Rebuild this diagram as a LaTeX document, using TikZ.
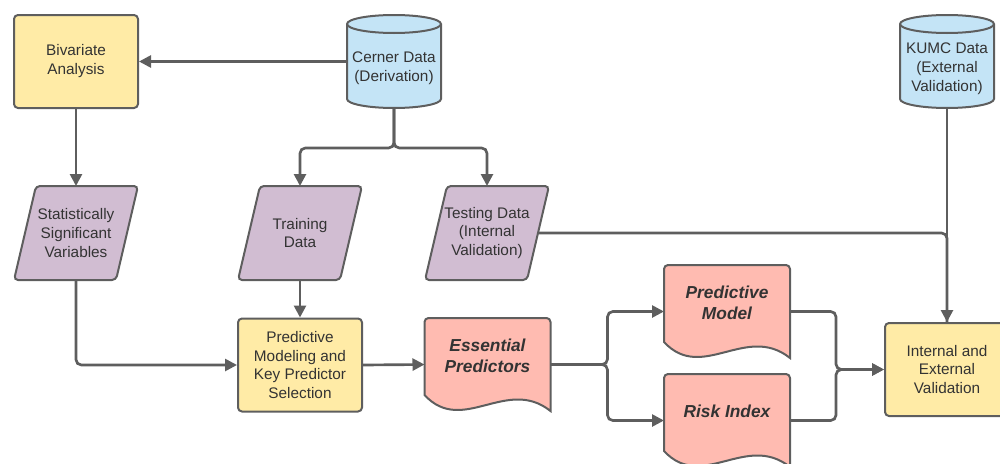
\documentclass[tikz,border=0pt]{standalone}
\usepackage{fontspec}
\setmainfont{Liberation Sans}
\usepackage{xcolor}
\usepackage{tikz}
\usetikzlibrary{arrows.meta,calc}
\definecolor{edgeGray}{RGB}{94,94,94}
\definecolor{inkGray}{RGB}{51,51,51}
\definecolor{procYellow}{RGB}{255,235,166}
\definecolor{drumBlue}{RGB}{196,228,246}
\definecolor{slantPurple}{RGB}{209,189,210}
\definecolor{docPink}{RGB}{255,187,177}
\tikzset{
  outline/.style={draw=edgeGray, line width=1.5pt},
  frame/.style={inner sep=0pt, outer sep=0pt},   % invisible box that carries the anchors
  lbl/.style={align=center, text=inkGray, font=\fontsize{11.5}{14.2}\selectfont},
  keytext/.style={lbl, font=\fontsize{13}{15.6}\selectfont\bfseries\itshape},
  process/.style={outline, lbl, rounded corners=3pt, fill=procYellow,
    minimum width=93pt, minimum height=69.75pt, inner sep=0pt},
  flow/.style={draw=edgeGray, line width=2pt, rounded corners=4pt,
    -{Triangle[length=9pt,width=9pt]}},
  link/.style={flow, -}
}
% data source drum
\newcommand{\DataDrum}[4]{%
  \node[frame, minimum width=70.5pt, minimum height=69.75pt] (#1) at (#2,#3) {};
  \draw[outline, fill=drumBlue] ($(#1.north west)+(0,9)$) -- ($(#1.south west)+(0,-9)$)
    arc[start angle=180, end angle=0, x radius=47, y radius=9]
    -- ($(#1.north east)+(0,9)$)
    arc[start angle=0, end angle=-180, x radius=47, y radius=9] -- cycle;
  \draw[outline] ($(#1.north west)+(0,9)$) arc[start angle=180, end angle=0, x radius=47, y radius=9];
  \node[lbl] (#1-t) at ($(#1.center)+(0,7)$) {#4};
}
% data set parallelogram
\newcommand{\SlantBox}[4]{%
  \node[frame, minimum width=76.5pt, minimum height=70.5pt] (#1) at (#2,#3) {};
  \draw[outline, fill=slantPurple, rounded corners=3pt]
    ($(#1.north west)+(11,0)$) -- ($(#1.north east)+(11,0)$)
    -- ($(#1.south east)+(-11,0)$) -- ($(#1.south west)+(-11,0)$) -- cycle;
  \node[lbl] (#1-t) at (#1.center) {#4};
}
% output document with wavy bottom
\newcommand{\DocBlock}[4]{%
  \node[frame, minimum width=94.5pt, minimum height=69.75pt] (#1) at (#2,#3) {};
  \draw[outline, fill=docPink] (#1.south east)
    .. controls ($(#1.south west)+(82,-35)$) and ($(#1.south west)+(38,25)$) .. ($(#1.south west)+(0,-16)$)
    [rounded corners=3pt] -- (#1.north west) -- (#1.north east) [sharp corners] -- cycle;
  \node[keytext] (#1-t) at ($(#1.center)+(0,-9)$) {#4};
}

\begin{document}
\begin{tikzpicture}[x=0.75pt,y=-0.75pt]
  \useasboundingbox (0,0) rectangle (1000,464);
  % sources
  \DataDrum{cerner}{394}{61.5}{Cerner Data\\(Derivation)}
  \DataDrum{kumc}{947}{61.5}{KUMC Data\\(External\\Validation)}
  % steps
  \node[process] (biv) at (76,61.5) {Bivariate\\Analysis};
  \node[process] (model) at (300,365) {Predictive\\Modeling and\\Key Predictor\\Selection};
  \node[process] (valid) at (947,369.5) {Internal and\\External\\Validation};
  % data sets
  \SlantBox{stat}{76}{233}{Statistically\\Significant\\Variables}
  \SlantBox{train}{300}{233}{Training\\Data}
  \SlantBox{test}{487}{233}{Testing Data\\(Internal\\Validation)}
  % results
  \DocBlock{ess}{487.5}{364.5}{Essential\\Predictors}
  \DocBlock{pmod}{727}{311.5}{Predictive\\Model}
  \DocBlock{risk}{727}{420.5}{Risk Index}
  % connectors
  \draw[flow] (cerner.west) -- (biv.east);
  \draw[flow] (biv.south) -- (stat.north);
  \draw[flow] (cerner.south) -- ++(0,40) -| (train.north);
  \draw[flow] (cerner.south) -- ++(0,40) -| (test.north);
  \draw[flow] (stat.south) |- (model.west);
  \draw[flow] (train.south) -- (model.north);
  \draw[flow] (model.east) -- (ess.west);
  \draw[flow] (ess.east) -- ++(57,0) |- (pmod.west);
  \draw[flow] (ess.east) -- ++(57,0) |- (risk.west);
  \draw[flow] (pmod.east) -- ++(46,0) |- (valid.west);
  \draw[flow] (risk.east) -- ++(46,0) |- (valid.west);
  \draw[link] (test.east) -| (valid.north);
  \draw[flow] (kumc.south) -- (valid.north);
\end{tikzpicture}
\end{document}
